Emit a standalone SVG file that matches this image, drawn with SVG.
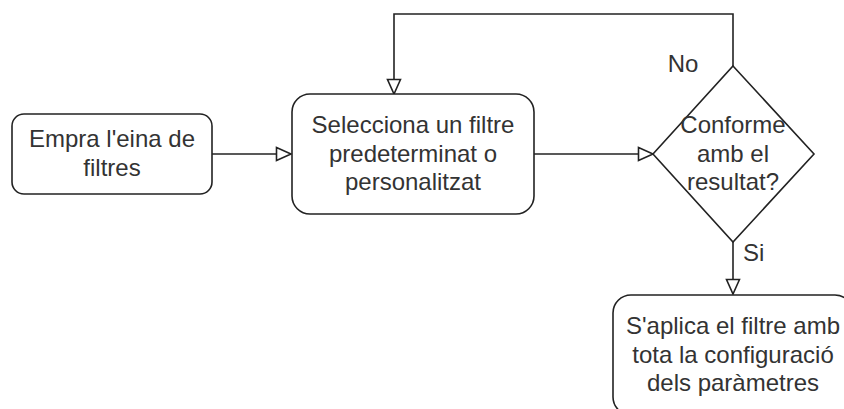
<svg xmlns="http://www.w3.org/2000/svg" width="844" height="409" viewBox="0 0 844 409">
<style>
.n{fill:#fff;stroke:#222;stroke-width:1.6}
.e{fill:none;stroke:#222;stroke-width:1.6}
text{font-family:"Liberation Sans",Arial,sans-serif;font-size:24px;fill:#333}
.c{text-anchor:middle}
</style>
<defs>
<marker id="arr" markerUnits="userSpaceOnUse" markerWidth="18" markerHeight="16" refX="14.5" refY="7" orient="auto" viewBox="-1 -1 17 16">
<path d="M0,0.5 L14.5,7 L0,13.5 Z" fill="#fff" stroke="#222" stroke-width="1.6"/>
</marker>
</defs>
<rect width="844" height="409" fill="#fff"/>
<g id="connectors">
<path class="e" d="M212,154 L291,154" marker-end="url(#arr)"/>
<path class="e" d="M534,154 L653,154" marker-end="url(#arr)"/>
<path class="e" d="M733,66 L733,14 L394,14 L394,94" marker-end="url(#arr)"/>
<path class="e" d="M733,242 L733,294" marker-end="url(#arr)"/>
<text x="683" y="72" class="c">No</text>
<text x="743" y="261">Si</text>
</g>
<g id="n1">
<rect class="n" x="12" y="114" width="200" height="80" rx="12"/>
<text x="112" y="147" class="c">Empra l'eina de</text>
<text x="112" y="176" class="c">filtres</text>
</g>
<g id="n2">
<rect class="n" x="292" y="94" width="242" height="120" rx="18"/>
<text x="413" y="133" class="c">Selecciona un filtre</text>
<text x="413" y="161.5" class="c">predeterminat o</text>
<text x="413" y="190" class="c">personalitzat</text>
</g>
<g id="n3">
<polygon class="n" points="733,66 814,154 733,242 653,154"/>
<text x="733" y="133" class="c">Conforme</text>
<text x="733" y="161.5" class="c">amb el</text>
<text x="733" y="190" class="c">resultat?</text>
</g>
<g id="n4">
<rect class="n" x="613" y="295" width="240" height="120" rx="18"/>
<text x="733" y="334" class="c">S'aplica el filtre amb</text>
<text x="733" y="362.5" class="c">tota la configuració</text>
<text x="733" y="391" class="c">dels paràmetres</text>
</g>
</svg>
